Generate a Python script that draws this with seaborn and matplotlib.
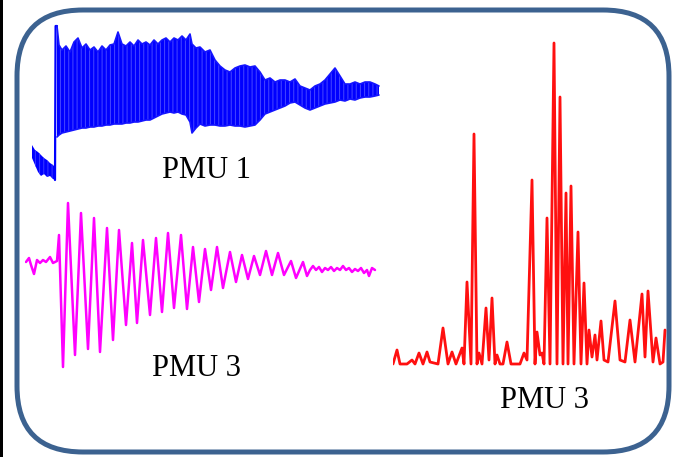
import matplotlib
matplotlib.use("Agg")
import matplotlib.pyplot as plt
from matplotlib.patches import FancyBboxPatch, Rectangle
import seaborn as sns

sns.set_theme(style="white")
plt.rcParams["font.family"] = ["Liberation Serif", "DejaVu Serif"]
plt.rcParams["hatch.linewidth"] = 0.7

# ---- PMU 1: post-disturbance frequency band (envelope of fast oscillation) ----
pmu1_pre_t = [0.0, 0.15, 0.3, 0.45, 0.6, 0.75, 0.9, 1.05, 1.15]
pmu1_pre_hi = [0.35, 0.30, 0.28, 0.25, 0.22, 0.20, 0.17, 0.15, 0.13]
pmu1_pre_lo = [0.22, 0.15, 0.08, 0.04, 0.06, 0.03, 0.04, 0.01, 0.00]
pmu1_step_t = [1.15, 1.18, 1.25]
pmu1_step_v = [0.00, 1.54, 1.54]

pmu1_t = [1.25, 1.35, 1.5, 1.7, 1.9, 2.1, 2.3, 2.5, 2.7, 2.9,
          3.1, 3.3, 3.5, 3.7, 3.9, 4.1, 4.3, 4.5, 4.7, 4.9,
          5.1, 5.3, 5.5, 5.7, 5.9, 6.1, 6.3, 6.5, 6.7, 6.9,
          7.1, 7.3, 7.5, 7.7, 7.9, 8.0, 8.2, 8.4, 8.65, 8.9,
          9.15, 9.4, 9.65, 9.9, 10.15, 10.4, 10.65, 10.9, 11.15, 11.4,
          11.65, 11.9, 12.15, 12.4, 12.65, 12.9, 13.15, 13.4, 13.65, 13.9,
          14.15, 14.4, 14.65, 14.9, 15.15, 15.4, 15.65, 15.9, 16.15, 16.4,
          16.65, 16.9, 17.15, 17.35]
pmu1_hi = [1.54, 1.35, 1.30, 1.34, 1.28, 1.38, 1.42, 1.32, 1.36, 1.30,
           1.33, 1.28, 1.34, 1.30, 1.35, 1.36, 1.48, 1.36, 1.34, 1.38,
           1.34, 1.40, 1.36, 1.38, 1.35, 1.40, 1.36, 1.40, 1.42, 1.38,
           1.42, 1.40, 1.44, 1.40, 1.46, 1.36, 1.32, 1.33, 1.28, 1.30,
           1.20, 1.14, 1.10, 1.08, 1.12, 1.14, 1.15, 1.13, 1.14, 1.08,
           1.00, 1.02, 0.98, 1.00, 1.00, 0.98, 1.01, 0.94, 0.92, 0.90,
           0.94, 0.96, 1.00, 1.06, 1.12, 1.04, 0.96, 0.96, 0.98, 0.96,
           0.98, 0.98, 0.96, 0.94]
pmu1_lo = [0.43, 0.45, 0.47, 0.48, 0.49, 0.50, 0.51, 0.52, 0.52, 0.53,
           0.53, 0.54, 0.54, 0.55, 0.55, 0.56, 0.56, 0.56, 0.57, 0.57,
           0.58, 0.58, 0.59, 0.60, 0.60, 0.62, 0.64, 0.66, 0.67, 0.68,
           0.67, 0.68, 0.66, 0.65, 0.58, 0.47, 0.52, 0.56, 0.54, 0.55,
           0.55, 0.54, 0.54, 0.55, 0.54, 0.54, 0.53, 0.54, 0.55, 0.60,
           0.66, 0.68, 0.70, 0.72, 0.74, 0.77, 0.78, 0.75, 0.72, 0.70,
           0.72, 0.74, 0.76, 0.77, 0.78, 0.80, 0.79, 0.81, 0.80, 0.82,
           0.83, 0.83, 0.84, 0.85]

# ---- PMU 3: damped inter-area oscillation (time domain) ----
pmu3_t = [0.05, 0.2, 0.3, 0.45, 0.6, 0.75, 0.9, 1.05, 1.25, 1.4, 1.6,
          1.7, 1.9, 2.15, 2.5, 2.8, 3.15, 3.45, 3.75, 4.1, 4.4,
          4.7, 5.05, 5.35, 5.6, 5.9, 6.25, 6.55, 6.85, 7.15, 7.45,
          7.8, 8.1, 8.4, 8.7, 9.0, 9.3, 9.6, 9.9, 10.25, 10.55,
          10.85, 11.15, 11.45, 11.75, 12.05, 12.35, 12.65, 12.95, 13.3, 13.55,
          13.9, 14.1,
          14.25, 14.4, 14.55, 14.7, 14.85, 15.0, 15.15, 15.3, 15.45, 15.6,
          15.75, 15.9, 16.05, 16.2, 16.35, 16.5, 16.65, 16.8, 16.95, 17.1,
          17.2, 17.35, 17.5]
pmu3_v = [0.00, 0.04, -0.03, -0.12, 0.02, -0.01, 0.02, 0.00, 0.05, -0.01, 0.01,
          0.27, -1.05, 0.59, -0.93, 0.49, -0.87, 0.44, -0.90, 0.34, -0.78,
          0.32, -0.63, 0.19, -0.61, 0.22, -0.53, 0.24, -0.50, 0.29, -0.46,
          0.27, -0.47, 0.15, -0.40, 0.13, -0.28, 0.15, -0.26, 0.10, -0.20,
          0.07, -0.17, 0.06, -0.13, 0.11, -0.13, 0.09, -0.13, 0.01, -0.16,
          0.00, -0.14,
          -0.08, -0.04, -0.08, -0.05, -0.10, -0.06, -0.08, -0.05, -0.09, -0.06,
          -0.08, -0.04, -0.08, -0.06, -0.10, -0.07, -0.09, -0.06, -0.11, -0.08,
          -0.14, -0.06, -0.08]

# ---- PMU 3: amplitude spectrum ----
spec_f = [0.00, 0.04, 0.07, 0.14, 0.19, 0.22, 0.26, 0.30, 0.34, 0.37,
          0.45, 0.50, 0.55, 0.59, 0.63, 0.69, 0.71, 0.74, 0.78, 0.81,
          0.84, 0.86, 0.89, 0.93, 0.96, 0.99, 1.02, 1.04, 1.07, 1.10,
          1.14, 1.18, 1.27, 1.31, 1.34, 1.39, 1.42, 1.44, 1.47, 1.49,
          1.51, 1.54, 1.57, 1.61, 1.64, 1.67, 1.70, 1.73, 1.75, 1.78,
          1.81, 1.85, 1.88, 1.91, 1.94, 1.96, 1.99, 2.02, 2.04, 2.08,
          2.11, 2.15, 2.22, 2.27, 2.32, 2.37, 2.42, 2.49, 2.52, 2.55,
          2.60, 2.63, 2.67, 2.70, 2.72]
spec_a = [0.00, 0.14, 0.00, 0.00, 0.04, 0.00, 0.11, 0.00, 0.12, 0.02,
          0.00, 0.36, 0.00, 0.12, 0.00, 0.16, 0.00, 0.82, 0.00, 2.30,
          0.00, 0.11, 0.00, 0.56, 0.04, 0.66, 0.00, 0.09, 0.00, 0.00,
          0.22, 0.00, 0.00, 0.11, 0.04, 1.84, 0.00, 0.32, 0.09, 0.11,
          0.00, 1.46, 0.00, 3.21, 0.00, 2.67, 0.00, 1.71, 0.00, 1.78,
          0.00, 1.32, 0.00, 0.81, 0.00, 0.34, 0.07, 0.29, 0.04, 0.43,
          0.04, 0.02, 0.63, 0.04, 0.02, 0.44, 0.02, 0.70, 0.07, 0.73,
          0.02, 0.26, 0.00, 0.02, 0.34]

labels = ["PMU 1", "PMU 3", "PMU 3"]

W, H = 673, 457
fig = plt.figure(figsize=(W / 100, H / 100), dpi=100)
fig.patch.set_facecolor("white")

# background canvas in pixel units for the frame and captions
bg = fig.add_axes([0, 0, 1, 1])
bg.set_xlim(0, W)
bg.set_ylim(H, 0)
bg.axis("off")
bg.add_patch(Rectangle((0, 0), 3, H, color="black", lw=0))
bg.add_patch(FancyBboxPatch((17, 10), 652, 442,
                            boxstyle="round,pad=0,rounding_size=66",
                            fill=False, ec="#3c6290", lw=3.6))


def panel(x0, y0, x1, y1):
    ax = fig.add_axes([x0 / W, 1 - y1 / H, (x1 - x0) / W, (y1 - y0) / H])
    ax.patch.set_alpha(0)
    ax.axis("off")
    return ax


# PMU 1 band: solid core with fine vertical striations of the fast swing
ax1 = panel(32, 18, 380, 182)
ax1.fill_between(pmu1_pre_t, pmu1_pre_lo, pmu1_pre_hi, facecolor="#0000ff",
                 edgecolor="#3a3aff", hatch="||||", lw=0)
ax1.fill_between(pmu1_t, pmu1_lo, pmu1_hi, facecolor="#0000ff",
                 edgecolor="#4848ff", hatch="||||", lw=0)
sns.lineplot(x=pmu1_step_t, y=pmu1_step_v, ax=ax1, color="#0000ff", lw=1.6,
             sort=False, estimator=None)
sns.lineplot(x=pmu1_t, y=pmu1_hi, ax=ax1, color="#1515ff", lw=1.2,
             estimator=None)
sns.lineplot(x=pmu1_t, y=pmu1_lo, ax=ax1, color="#1515ff", lw=1.2,
             estimator=None)
ax1.set_xlim(0, 17.4)
ax1.set_ylim(-0.02, 1.62)

# PMU 3 time response
ax2 = panel(25, 195, 377, 375)
line2 = sns.lineplot(x=pmu3_t, y=pmu3_v, ax=ax2, color="#ff00ff", lw=1.8,
                     sort=False, estimator=None)
for ln in ax2.lines:
    ln.set_solid_joinstyle("round")
ax2.set_xlim(0, 17.6)
ax2.set_ylim(-1.13, 0.67)

# PMU 3 spectrum
ax3 = panel(393, 30, 667, 366)
sns.lineplot(x=spec_f, y=spec_a, ax=ax3, color="#ff1010", lw=2.0,
             sort=False, estimator=None)
for ln in ax3.lines:
    ln.set_solid_joinstyle("round")
ax3.set_xlim(0, 2.74)
ax3.set_ylim(-0.02, 3.34)

for txt, (cx, cy) in zip(labels, [(207, 171), (196, 368), (544, 400)]):
    bg.text(cx, cy, txt, ha="center", va="center", fontsize=22,
            color="black", family=["Liberation Serif", "DejaVu Serif"])

fig.savefig("out.png", dpi=100, facecolor="white")
